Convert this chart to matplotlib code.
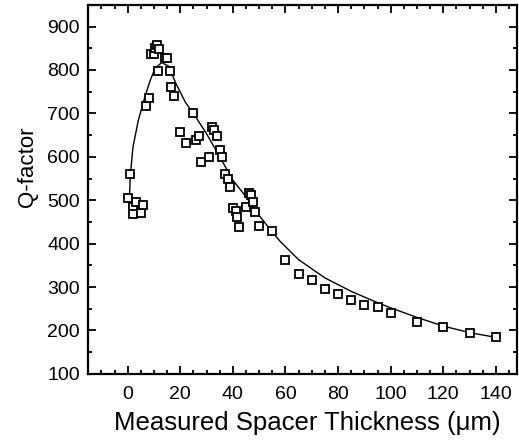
import matplotlib
matplotlib.use("Agg")
import matplotlib.pyplot as plt
from matplotlib.ticker import MultipleLocator

plt.rcParams['font.family'] = ['Liberation Sans', 'DejaVu Sans']

# measured points
thickness = [0, 1, 2, 2, 3, 5, 6,
             7, 8,
             9, 10, 10.5, 11, 12, 11.5, 14, 15, 16, 16.5, 17.5,
             20, 22, 25, 26, 27, 28, 31, 32, 33, 34, 35, 36, 37, 38, 39,
             40, 41, 41.5, 42.5, 45, 46, 47, 47.5, 48.5, 50, 55,
             60, 65, 70, 75, 80, 85, 90, 95, 100, 110, 120, 130, 140]
q_factor = [505, 560, 485, 468, 497, 470, 490,
            718, 735,
            836, 836, 850, 858, 848, 798, 827, 827, 798, 760, 741,
            657, 632, 700, 638, 649, 588, 600, 668, 661, 647, 616, 600, 561, 550, 531,
            481, 476, 461, 438, 484, 517, 512, 497, 474, 441, 430,
            363, 331, 316, 296, 285, 270, 258, 253, 241, 219, 209, 194, 184]

# fitted curve
fit_x = [0.5, 1, 2, 4, 6.5, 8.5, 10.5, 13, 15.5, 18.5, 22, 25, 30, 35, 40,
         45, 50, 54.5, 58, 65, 75, 85, 95, 100, 110, 120, 130, 140]
fit_q = [480, 557, 622, 683, 737, 775, 805, 817, 809, 767, 725, 700, 653, 600, 546,
         508, 465, 430, 405, 363, 321, 290, 264, 252, 230, 210, 195, 184]

fig = plt.figure(figsize=(5.19, 4.44), dpi=100)
ax = fig.add_axes([0.170, 0.158, 0.826, 0.831])

ax.plot(fit_x, fit_q, color='black', lw=1.0)
ax.plot(thickness, q_factor, 's', ms=6.2, mfc='white', mec='black', mew=1.3)

ax.set_xlim(-15, 148)
ax.set_ylim(100, 950)
ax.xaxis.set_major_locator(MultipleLocator(20))
ax.xaxis.set_minor_locator(MultipleLocator(5))
ax.yaxis.set_major_locator(MultipleLocator(100))
ax.yaxis.set_minor_locator(MultipleLocator(50))
ax.tick_params(which='both', direction='in', top=True, right=True, width=1.3)
ax.tick_params(which='major', length=6, labelsize=14)
ax.tick_params(axis='x', which='major', pad=9)
ax.tick_params(axis='y', which='major', pad=6)
ax.tick_params(which='minor', length=3)
for s in ax.spines.values():
    s.set_linewidth(1.6)

ax.set_xlabel('Measured Spacer Thickness (\u03bcm)', fontsize=18.5)
ax.set_ylabel('Q-factor', fontsize=16)
ax.xaxis.set_label_coords(0.51, -0.10)
ax.yaxis.set_label_coords(-0.117, 0.56)

fig.savefig('out.png', dpi=100)
